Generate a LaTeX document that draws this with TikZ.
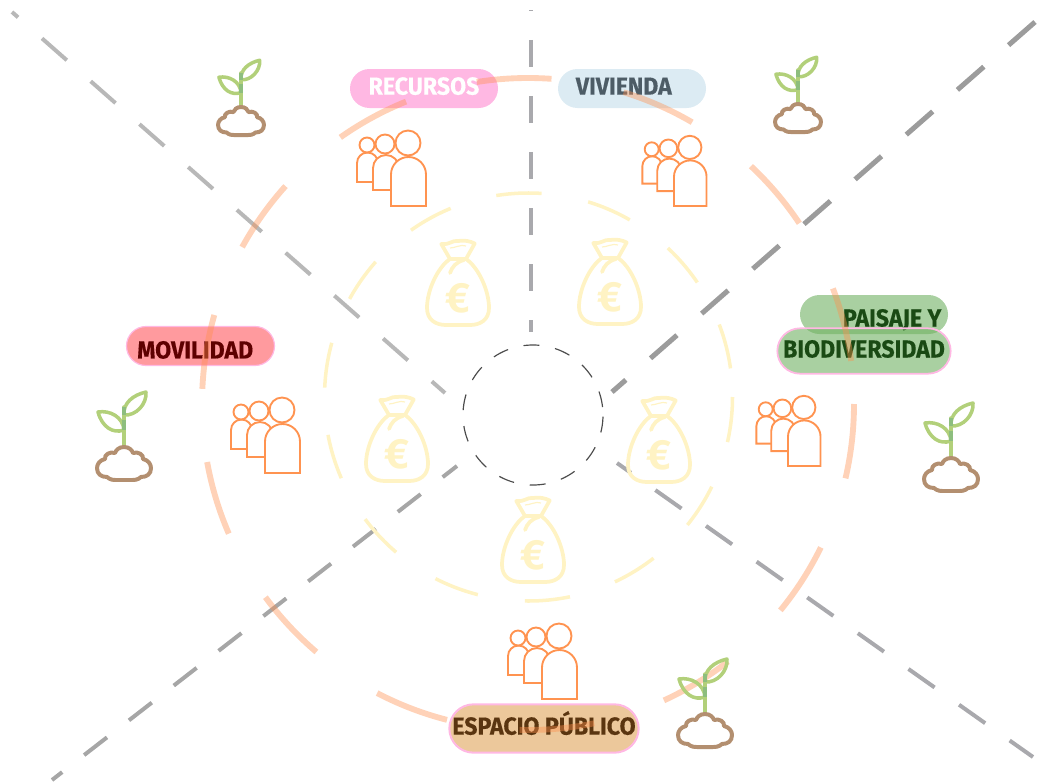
\documentclass[tikz,border=0pt]{standalone}
\usepackage{fontspec}
\setmainfont[FakeStretch=0.94, BoldFeatures={FakeBold=0.4}]{Fira Sans}
\newfontfamily\eurofont{Fira Sans}
\usetikzlibrary{shapes.misc}
\definecolor{guide}{HTML}{A9A9AD}
\definecolor{guidedark}{HTML}{9C9C9C}
\definecolor{guidelight}{HTML}{B8B8B8}
\definecolor{ringorange}{HTML}{FF8F4D}
\definecolor{ringyellow}{HTML}{FFF3C4}
\definecolor{peoplecol}{HTML}{FF9350}
\definecolor{leafcol}{HTML}{B2D07A}
\definecolor{leafjoin}{HTML}{8DBE7E}
\definecolor{soilcol}{HTML}{B38F70}
\definecolor{pillpink}{HTML}{FFB8E3}
\definecolor{pillgreen}{HTML}{70B162}
\definecolor{pillblue}{HTML}{DCEBF3}
\definecolor{pillred}{HTML}{FF9A9E}
\definecolor{pillsand}{HTML}{ECC89B}
\definecolor{textblue}{HTML}{4D5C66}
\definecolor{textred}{HTML}{5E0000}
\definecolor{textgreen}{HTML}{1A4A14}
\definecolor{textbrown}{HTML}{5A3510}
\begin{document}
\begin{tikzpicture}
	[x=0.03cm, y=-0.03cm,
	guideline/.style = {line width=3.4pt, color=guide},
	moneyring/.style = {line width=3pt, color=ringyellow, dash pattern=on 38.8pt off 40.5pt},
	peoplering/.style = {line width=5pt, color=ringorange, opacity=0.4, dash pattern=on 64pt off 62.75pt},
	hubring/.style = {draw=black!70, circle, line width=1pt, inner sep=0, minimum size=4.2cm, dash pattern=on 13.6pt off 13.6pt, dash phase=20.4pt},
	pill/.style = {rounded rectangle, minimum width=4.44cm, minimum height=1.17cm, inner sep=0, font=\bfseries\fontsize{21}{21}\selectfont, text height=14.5pt, text depth=0pt},
	person/.style = {draw=peoplecol, line width=1.6pt, fill=white},
	soil/.style = {draw=soilcol, line width=3.4pt, line join=round},
	leaf/.style = {draw=leafcol, line width=3pt, line join=round, line cap=round},
	bagline/.style = {draw=ringyellow, line width=3.2pt, line join=round, line cap=round},
	crowd/.pic = {
		\draw[person] (-34,-24) -- (-34,-43) arc[start angle=180, end angle=360, radius=10.5] -- (-13,-24) -- cycle;
		\draw[person] (-24,-61) circle[radius=7.5];
		\draw[person] (-18,-16) -- (-18,-38) arc[start angle=180, end angle=360, radius=13] -- (8,-16) -- cycle;
		\draw[person] (-6,-62) circle[radius=9.5];
		\draw[person] (0,0) -- (0,-31.5) arc[start angle=180, end angle=360, radius=17.5] -- (35,0) -- cycle;
		\draw[person] (17,-63) circle[radius=12.5];
	},
	sprout/.pic = {
		\draw[leaf] (0,0) -- (0,-40);
		\draw[leaf] (0,-32) .. controls (-1,-44) and (9,-52) .. (22,-55) .. controls (23,-43) and (12,-31) .. cycle;
		\draw[leaf] (0,-17) .. controls (-1,-30) and (-14,-37) .. (-26,-35) .. controls (-22,-20) and (-11,-13) .. cycle;
		\draw[leafjoin, line width=3pt] (0,-40) -- (0,-32);
		\draw[leafjoin, line width=3pt] (0,-27) -- (0,-17);
		\draw[soil] (0,0) .. controls (5,0) and (8,3) .. (9,6) .. controls (14,4) and (20,8) .. (19,12)
			.. controls (24,13) and (27,17) .. (27,21) .. controls (27,27) and (23,30) .. (17,30)
			.. controls (14,33) and (10,33) .. (8,33) -- (-8,33)
			.. controls (-10,33) and (-14,33) .. (-17,30) .. controls (-23,30) and (-27,27) .. (-27,21)
			.. controls (-27,17) and (-24,13) .. (-19,12) .. controls (-20,8) and (-14,4) .. (-9,6)
			.. controls (-8,3) and (-5,0) .. (0,0) -- cycle;
	},
	moneybag/.pic = {
		\draw[bagline] (-8,19) -- (-16.7,4) .. controls (-8,5) and (-6,0) .. (0,1) .. controls (6,0) and (12,1) .. (16.7,3.5) -- (8,19) -- cycle;
		\draw[bagline] (-8,19) .. controls (-20,27) and (-31,50) .. (-31,68) .. controls (-31,80) and (-22,85) .. (-12,85) -- (12,85)
			.. controls (22,85) and (31,80) .. (31,68) .. controls (31,50) and (20,27) .. (8,19);
		\draw[bagline] (-8,33) .. controls (-6,27) and (-2,22) .. (6,20);
		\draw[draw=ringyellow, line width=1pt] (-8,8) .. controls (-3,8) and (3,4) .. (8,6);
		\node[text=ringyellow, font=\eurofont\bfseries\fontsize{36}{36}\selectfont] (-euro) at (0,58) {€};
	}]
	\useasboundingbox (0,0) rectangle (1062,784);

	\coordinate (vtop) at (531,10);
	\coordinate (vend) at (531,332);
	\coordinate (nwout) at (12,12);
	\coordinate (nwin) at (445,393);
	\coordinate (neout) at (1035,22);
	\coordinate (nein) at (612,392);
	\coordinate (swout) at (52,780);
	\coordinate (swin) at (457,466);
	\coordinate (sein) at (617,463);
	\coordinate (seout) at (1033,757);
	\coordinate (moneymid) at (528.5,397);
	\coordinate (peoplemid) at (528,404);

	\draw[guideline, dash pattern=on 23pt off 24.8pt, dash phase=22.2pt] (vtop) -- (vend);
	\draw[guideline, color=guidelight, dash pattern=on 28.2pt off 27.2pt, dash phase=21.3pt] (nwout) -- (nwin);
	\draw[guideline, color=guidedark, line width=4.3pt, dash pattern=on 30pt off 28pt] (neout) -- (nein);
	\draw[guideline, color=guidelight!90!black, dash pattern=on 24.7pt off 23.7pt, dash phase=13.7pt] (swout) -- (swin);
	\draw[guideline, dash pattern=on 27.3pt off 25.6pt, dash phase=12.8pt] (sein) -- (seout);

	\draw[moneyring] (moneymid) circle[radius=204];
	\node[hubring] (hub) at (533,415) {};

	\pic (bag1) at (458,240) {moneybag};
	\pic (bag2) at (610,239) {moneybag};
	\pic (bag3) at (397,396) {moneybag};
	\pic (bag4) at (659,397) {moneybag};
	\pic (bag5) at (533,497) {moneybag};

	\pic (crowd1) at (391,206) {crowd};
	\pic[scale=0.93] (crowd2) at (674,206) {crowd};
	\pic (crowd3) at (265,473) {crowd};
	\pic[scale=0.93] (crowd4) at (788,466) {crowd};
	\pic (crowd5) at (542,699) {crowd};

	\node[pill, fill=pillpink, text=white] (recursos) at (424,88.5) {\raisebox{2pt}{RECURSOS}};
	\node[pill, fill=pillblue, text=textblue, right of = recursos, node distance=6.24cm] (vivienda) {\raisebox{2pt}{VIVIENDA}\kern14pt\relax};
	\node[pill, fill=pillgreen, fill opacity=0.6, text opacity=1, text=textgreen] (paisaje) at (874,314.5) {\hspace{31pt}\raisebox{-3pt}{PAISAJE Y}};
	\node[pill, fill=pillgreen, fill opacity=0.6, text opacity=1, draw=pillpink, line width=1.5pt, text=textgreen, minimum width=5.2cm, minimum height=1.36cm] (biodiversidad) at (864,351) {\raisebox{1.7pt}{BIODIVERSIDAD}};
	\node[pill, fill=pillred, draw=pillpink, line width=1pt, text=textred] (movilidad) at (200.5,346) {\raisebox{-3.4pt}{MOVILIDAD}\kern9pt\relax};
	\node[pill, fill=pillsand, draw=pillpink, line width=1.7pt, text=textbrown, minimum width=5.68cm, minimum height=1.45cm] (espacio) at (544,728.5) {\raisebox{2pt}{ESPACIO PÚBLICO}};

	\draw[peoplering] (peoplemid) circle[radius=326];

	\pic[scale=0.85] (plant1) at (241,107) {sprout};
	\pic[scale=0.85] (plant2) at (798,104) {sprout};
	\pic (plant3) at (124,447) {sprout};
	\pic (plant4) at (951,458) {sprout};
	\pic (plant5) at (705,714) {sprout};

\end{tikzpicture}
\end{document}
